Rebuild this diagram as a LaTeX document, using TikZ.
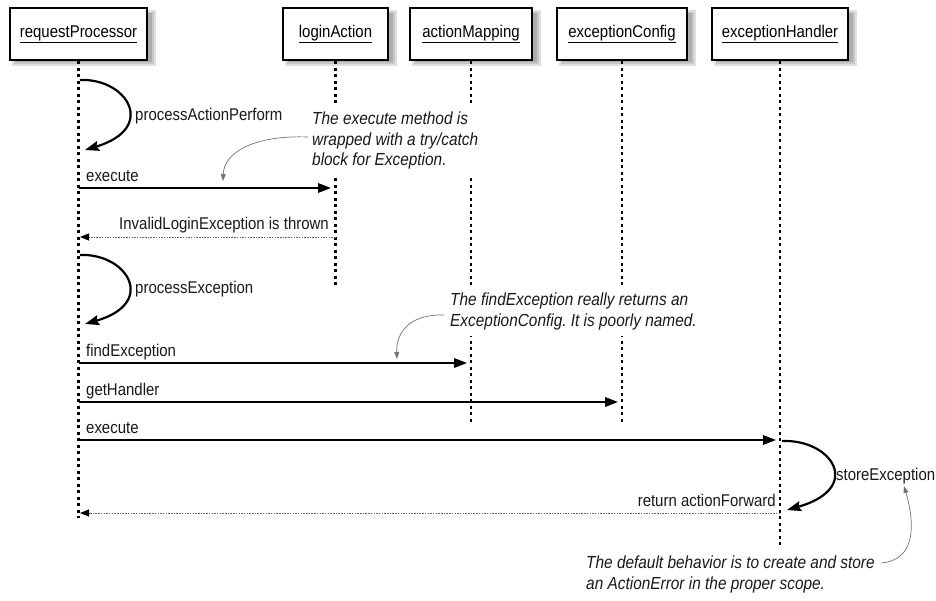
\documentclass[tikz,border=0pt]{standalone}
\usepackage{fontspec}
\setmainfont{Liberation Sans}[FakeStretch=0.88]
\usetikzlibrary{arrows.meta}
\frenchspacing
\newcommand\headbox[4]{% name, left, right, text
  \fill[black!12] (#2+2,10) rectangle (#3+9,66);
  \fill[black!22] (#2+4,12) rectangle (#3+7,64);
  \fill[black!32] (#2+5,13) rectangle (#3+5,62);
  \node[hbox, minimum width={#3-#2}] (#1) at ({(#2+#3)/2},34) {};
  \node[htext, anchor=base] (#1t) at ({(#2+#3)/2},38) {#4};
  \draw[line width=1.5pt] ([yshift=-4.5pt]#1t.base west) -- ([yshift=-4.5pt]#1t.base east);
}
\begin{document}
\begin{tikzpicture}[x=1pt,y=-1pt,
  hbox/.style={draw=black, line width=2.4pt, fill=white, minimum height=52pt, inner sep=0pt},
  htext/.style={inner sep=0pt, font=\fontsize{17}{20}\selectfont},
  lbl/.style={inner sep=0pt, text=black!90, font=\fontsize{17}{20}\selectfont},
  note/.style={inner sep=0pt, align=left, text=black!90, font=\fontsize{17.5}{20.5}\selectfont\itshape},
  life/.style={line width=2.2pt, dash pattern=on 3pt off 3.5pt, black},
  msg/.style={line width=1.9pt, -{Triangle[length=13pt,width=9.5pt]}},
  ret/.style={line width=0.9pt, black!60, dash pattern=on 1.5pt off 1.2pt, -{Triangle[length=9pt,width=7pt,fill=black,color=black]}},
  selfcall/.style={line width=2.2pt, -{Stealth[length=14pt,width=10pt,inset=2pt]}},
  pointer/.style={line width=0.7pt, black!55, -{Triangle[length=7pt,width=5pt]}}]
\useasboundingbox (0,0) rectangle (936,601);

% header boxes
\headbox{rp}{10}{147}{requestProcessor}
\headbox{la}{283}{388}{loginAction}
\headbox{am}{410}{532}{actionMapping}
\headbox{ec}{557}{687}{exceptionConfig}
\headbox{eh}{712}{848}{exceptionHandler}

% lifeline ends
\coordinate (rpend) at (78.5,518);
\coordinate (laend) at (335.5,288);
\coordinate (amend) at (471,422);
\coordinate (ecend) at (622,422);
\coordinate (ehend) at (780,548);

\draw[life] (rp.south) -- (rpend);
\draw[life] (la.south) -- (laend);
\draw[life] (am.south) -- (amend);
\draw[life] (ec.south) -- (ecend);
\draw[life] (eh.south) -- (ehend);

% notes (white fill interrupts lifelines)
\node[note, fill=white, inner ysep=6pt, inner xsep=2pt, anchor=north west] (n1) at (310,106)
  {The execute method is\\wrapped with a try/catch\\block for Exception.};
\node[note, fill=white, inner ysep=6pt, inner xsep=2pt, anchor=north west] (n2) at (448,287)
  {The findException really returns an\\ExceptionConfig. It is poorly named.};
\node[note, anchor=north west] (n3) at (586,556)
  {The default behavior is to create and store\\an ActionError in the proper scope.};

% self calls
\coordinate (s1a) at (80,80);   \coordinate (s1b) at (85,150);
\coordinate (s2a) at (80,255);  \coordinate (s2b) at (85,324);
\coordinate (s3a) at (782,441); \coordinate (s3b) at (787,510);
\draw[selfcall] (s1a) .. controls (127,78) and (158,128) .. (s1b);
\draw[selfcall] (s2a) .. controls (127,253) and (158,303) .. (s2b);
\draw[selfcall] (s3a) .. controls (832,439) and (864,488) .. (s3b);
\node[lbl, anchor=west] (t1) at (135,116) {processActionPerform};
\node[lbl, anchor=west] (t2) at (135,289) {processException};
\node[lbl, anchor=west] (t3) at (836,476) {storeException};

% messages
\coordinate (m1a) at (78.5,188); \coordinate (m1b) at (331,188);
\coordinate (m2a) at (335.5,237); \coordinate (m2b) at (80,237);
\coordinate (m3a) at (78.5,363); \coordinate (m3b) at (467,363);
\coordinate (m4a) at (78.5,402); \coordinate (m4b) at (618,402);
\coordinate (m5a) at (78.5,440); \coordinate (m5b) at (776,440);
\coordinate (m6a) at (780,513); \coordinate (m6b) at (80,513);

\draw[msg] (m1a) -- (m1b);
\draw[ret] (m2a) -- (m2b);
\draw[msg] (m3a) -- (m3b);
\draw[msg] (m4a) -- (m4b);
\draw[msg] (m5a) -- (m5b);
\draw[ret] (m6a) -- (m6b);

\node[lbl, anchor=base west] (l1) at (86,182) {execute};
\node[lbl, anchor=base east] (l2) at (329,230) {InvalidLoginException is thrown};
\node[lbl, anchor=base west] (l3) at (86,356) {findException};
\node[lbl, anchor=base west] (l4) at (86,395) {getHandler};
\node[lbl, anchor=base west] (l5) at (86,433) {execute};
\node[lbl, anchor=base east] (l6) at (776,506) {return actionForward};

% pointers from notes
\coordinate (p1a) at (308,137); \coordinate (p1b) at (223,181);
\coordinate (p2a) at (444,315); \coordinate (p2b) at (397,359);
\coordinate (p3a) at (881,563); \coordinate (p3b) at (904,486);
\draw[pointer] (p1a) .. controls (255,135) and (224,152) .. (p1b);
\draw[pointer] (p2a) .. controls (410,314) and (396,332) .. (p2b);
\draw[pointer] (p3a) .. controls (918,560) and (914,520) .. (p3b);
\end{tikzpicture}
\end{document}
